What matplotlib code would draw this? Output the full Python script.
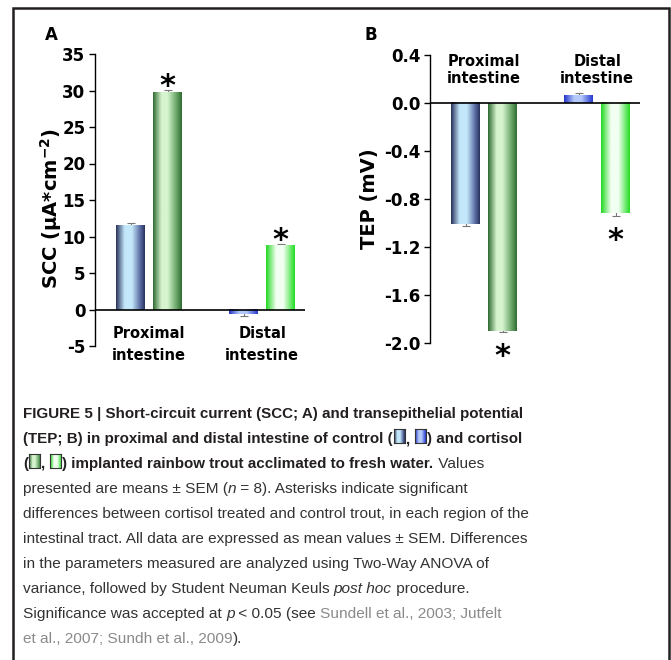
import numpy as np
import matplotlib
matplotlib.use('Agg')
import matplotlib.pyplot as plt
from matplotlib import font_manager
from matplotlib.colors import LinearSegmentedColormap
from matplotlib.patches import Rectangle
from matplotlib.transforms import blended_transform_factory

# data
regions = ['Proximal\nintestine', 'Distal\nintestine']
scc_control = [11.6, -0.6]
scc_control_sem = [0.25, 0.35]
scc_cortisol = [29.8, 8.8]
scc_cortisol_sem = [0.3, 0.2]
scc_sig = [True, True]
tep_control = [-1.01, 0.06]
tep_control_sem = [0.012, 0.02]
tep_cortisol = [-1.90, -0.92]
tep_cortisol_sem = [0.01, 0.02]
tep_sig = [True, True]
scc_ticks = [-5, 0, 5, 10, 15, 20, 25, 30, 35]
tep_ticks = [-2.0, -1.6, -1.2, -0.8, -0.4, 0.0, 0.4]

# gradient stops (left -> right) per treatment and region
CTRL = [
    [(0, '#27305a'), (0.3, '#c4e8fb'), (0.55, '#c4e8fb'), (0.85, '#56679e'), (1, '#28315c')],
    [(0, '#2233c8'), (0.35, '#b4c8fa'), (0.6, '#b4c8fa'), (1, '#2438d0')],
]
CORT = [
    [(0, '#2d6a30'), (0.3, '#d6f5cf'), (0.5, '#d6f5cf'), (0.85, '#5c9c5c'), (1, '#2e6a30')],
    [(0, '#1fd81f'), (0.35, '#f2fff2'), (0.6, '#f2fff2'), (1, '#22dc22')],
]

plt.rcParams['axes.unicode_minus'] = False
plt.rcParams['mathtext.default'] = 'bf'
plt.rcParams['font.weight'] = 'bold'

W, H = 671, 660
fig = plt.figure(figsize=(W / 100, H / 100), dpi=100)
INK = '#231f20'


def px_axes(left, top, right, bottom):
    return fig.add_axes([left / W, 1 - bottom / H, (right - left) / W, (bottom - top) / H])


def grad_fill(ax, bar, stops):
    cmap = LinearSegmentedColormap.from_list('g', stops)
    x0, y0 = bar.get_x(), bar.get_y()
    x1, y1 = x0 + bar.get_width(), y0 + bar.get_height()
    ax.imshow(np.linspace(0, 1, 256).reshape(1, -1), cmap=cmap, aspect='auto',
              extent=(x0, x1, min(y0, y1), max(y0, y1)), zorder=2, interpolation='bilinear')


def panel(ax, ctrl, ctrl_sem, cort, cort_sem, sig, ylim, ticks, fmt, ylabel):
    x = np.arange(len(regions))
    off, w = 0.163, 0.255
    b1 = ax.bar(x - off, ctrl, w, color='none', zorder=2)
    b2 = ax.bar(x + off, cort, w, color='none', zorder=2)
    for i in range(len(regions)):
        grad_fill(ax, b1[i], CTRL[i])
        grad_fill(ax, b2[i], CORT[i])
    ax.errorbar(x - off, ctrl, yerr=ctrl_sem, fmt='none', ecolor='#777777',
                elinewidth=0.8, capsize=3, capthick=0.8, zorder=1.5)
    ax.errorbar(x + off, cort, yerr=cort_sem, fmt='none', ecolor='#777777',
                elinewidth=0.8, capsize=3, capthick=0.8, zorder=1.5)
    for i, s in enumerate(sig):
        if not s:
            continue
        v = cort[i]
        if v >= 0:
            ax.annotate('*', (x[i] + off, v + cort_sem[i]), xytext=(0, -5),
                        textcoords='offset pixels', ha='center', va='baseline',
                        fontsize=22, fontweight='bold', color='black')
        else:
            ax.annotate('*', (x[i] + off, v - cort_sem[i]), xytext=(0, -33),
                        textcoords='offset pixels', ha='center', va='baseline',
                        fontsize=22, fontweight='bold', color='black')
    ax.axhline(0, color='black', lw=1.2, zorder=3)
    ax.set_xlim(-0.48, 1.38)
    ax.set_ylim(*ylim)
    ax.set_yticks(ticks)
    ax.yaxis.set_major_formatter(matplotlib.ticker.FormatStrFormatter(fmt))
    ax.set_xticks([])
    for s in ['top', 'right', 'bottom']:
        ax.spines[s].set_visible(False)
    ax.spines['left'].set_linewidth(1.0)
    ax.tick_params(axis='y', direction='out', length=4, width=1, labelsize=12, pad=3)
    for lab in ax.get_yticklabels():
        lab.set_fontweight('bold')
    ax.set_ylabel(ylabel, fontsize=14, fontweight='bold')
    return x


axA = px_axes(95, 54, 305, 346)
axB = px_axes(430, 55, 640, 343)
xa = panel(axA, scc_control, scc_control_sem, scc_cortisol, scc_cortisol_sem, scc_sig,
           (-5, 35), scc_ticks, '%d', 'SCC (μA*cm$^{-2}$)')
xb = panel(axB, tep_control, tep_control_sem, tep_cortisol, tep_cortisol_sem, tep_sig,
           (-2.0, 0.4), tep_ticks, '%.1f', 'TEP (mV)')
axA.yaxis.set_label_coords(-0.15, 0.47)
axB.yaxis.set_label_coords(-0.245, 0.50)

trA = blended_transform_factory(axA.transData, axA.transAxes)
trB = blended_transform_factory(axB.transData, axB.transAxes)
for i, r in enumerate(regions):
    axA.text(xa[i], 0.005, r, transform=trA, ha='center', va='center', fontsize=10.5,
             fontweight='bold', linespacing=1.55)
    axB.text(xb[i], 0.948, r, transform=trB, ha='center', va='center', fontsize=10.5,
             fontweight='bold', linespacing=1.15)

fig.text(45 / W, 1 - 40 / H, 'A', fontsize=12, fontweight='bold', va='baseline')
fig.text(365 / W, 1 - 40 / H, 'B', fontsize=12, fontweight='bold', va='baseline')

# outer frame (bottom edge lies outside the picture)
fig.patches.append(Rectangle((13 / W, -0.05), (669 - 13) / W, 1.05 - 8 / H,
                             transform=fig.transFigure, fill=False, lw=1.8,
                             edgecolor=INK, zorder=10))

# caption
names = {f.name for f in font_manager.fontManager.ttflist}
cap_font = next((n for n in ['Liberation Sans Narrow', 'DejaVu Sans Condensed',
                             'Liberation Sans'] if n in names), 'DejaVu Sans')
renderer = fig.canvas.get_renderer()

STYLE = {
    'b': dict(fontweight='bold', color=INK),
    'r': dict(fontweight='normal', color='#333333'),
    'i': dict(fontweight='normal', style='italic', color='#333333'),
    'g': dict(fontweight='normal', color='#8a8a8a'),
}

caption = [
    [('FIGURE 5 | Short-circuit current (SCC; A) and transepithelial potential', 'b')],
    [('(TEP; B) in proximal and distal intestine of control (', 'b'), (CTRL[0], 'icon'),
     (', ', 'b'), (CTRL[1], 'icon'), (') and cortisol', 'b')],
    [('(', 'b'), (CORT[0], 'icon'), (', ', 'b'), (CORT[1], 'icon'),
     (') implanted rainbow trout acclimated to fresh water.', 'b'), (' Values', 'r')],
    [('presented are means ± SEM (', 'r'), ('n', 'i'), (' = 8). Asterisks indicate significant', 'r')],
    [('differences between cortisol treated and control trout, in each region of the', 'r')],
    [('intestinal tract. All data are expressed as mean values ± SEM. Differences', 'r')],
    [('in the parameters measured are analyzed using Two-Way ANOVA of', 'r')],
    [('variance, followed by Student Neuman Keuls ', 'r'), ('post hoc', 'i'), (' procedure.', 'r')],
    [('Significance was accepted at ', 'r'), ('p', 'i'), (' < 0.05 (see ', 'r'),
     ('Sundell et al., 2003; Jutfelt', 'g')],
    [('et al., 2007; Sundh et al., 2009', 'g'), (').', 'r')],
]


def width(s, size, key):
    t = fig.text(0, 0, s + '|', fontsize=size, family=cap_font, **STYLE[key])
    w = t.get_window_extent(renderer).width
    t.set_text('|')
    w -= t.get_window_extent(renderer).width
    t.remove()
    return w


bold_size = 1.05 * 10 * 477 / width(caption[0][0][0], 10, 'b')
reg_size = 1.05 * 10 * 483 / width(caption[4][0][0], 10, 'r')
SIZE = {'b': bold_size, 'r': reg_size, 'i': reg_size, 'g': reg_size}

for li, line in enumerate(caption):
    x = 23
    base = 418 + 25 * li
    for item, key in line:
        if key == 'icon':
            iax = fig.add_axes([(x + 1) / W, 1 - base / H, 11 / W, 14 / H])
            iax.imshow(np.linspace(0, 1, 64).reshape(1, -1), aspect='auto',
                       cmap=LinearSegmentedColormap.from_list('i', item))
            iax.set_xticks([])
            iax.set_yticks([])
            for sp in iax.spines.values():
                sp.set_linewidth(0.8)
                sp.set_color('#333333')
            x += 13
            continue
        fig.text(x / W, 1 - base / H, item, fontsize=SIZE[key], family=cap_font,
                 va='baseline', ha='left', **STYLE[key])
        x += width(item, SIZE[key], key)

fig.savefig('out.png', dpi=100, facecolor='white')
